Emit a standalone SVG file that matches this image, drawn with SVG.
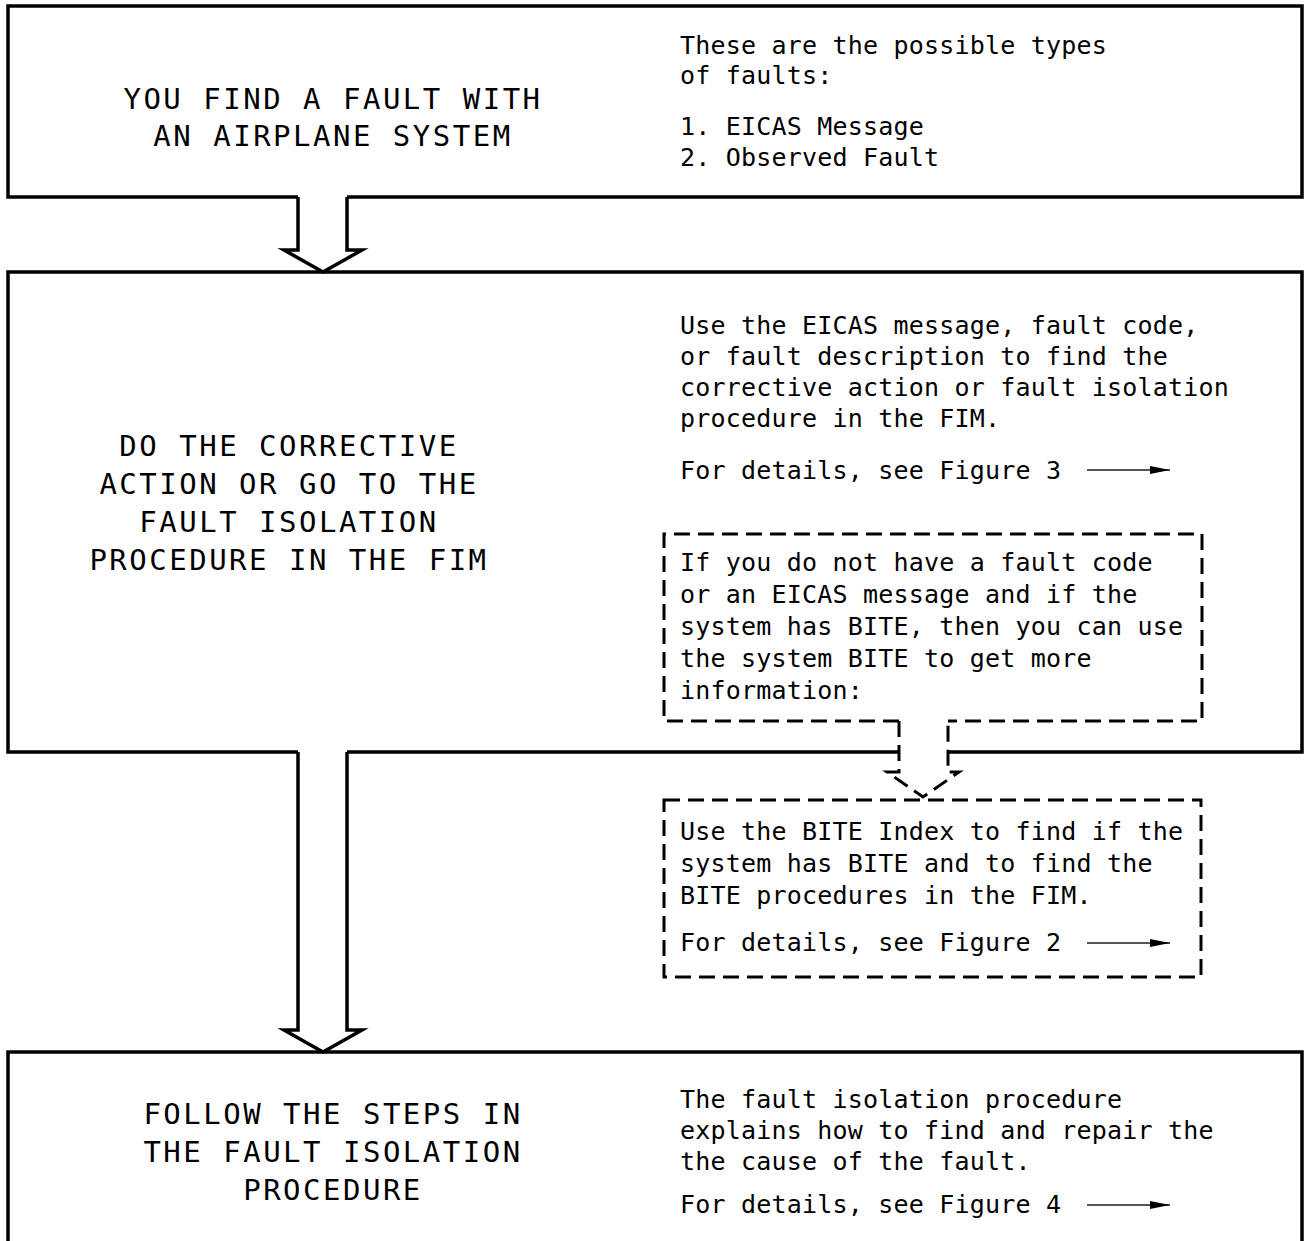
<svg xmlns="http://www.w3.org/2000/svg" width="1310" height="1241" viewBox="0 0 1310 1241">
<style>
.box{fill:none;stroke:#000;stroke-width:3.5;stroke-linejoin:miter}
.dash{fill:none;stroke:#000;stroke-width:3;stroke-dasharray:16 8}
.h{font-family:"DejaVu Sans Mono","Liberation Mono",monospace;font-size:29px;letter-spacing:2.5px;text-anchor:middle;fill:#000}
.t{font-family:"DejaVu Sans Mono","Liberation Mono",monospace;font-size:25px;letter-spacing:0.2px;fill:#000}
.ref{stroke:#555;stroke-width:2;marker-end:url(#ah)}
</style>
<defs>
<marker id="ah" viewBox="0 0 20 8" refX="20" refY="4" markerWidth="20" markerHeight="8" markerUnits="userSpaceOnUse" orient="auto">
<path d="M0,0 L20,4 L0,8 Z" fill="#000"/>
</marker>
</defs>
<rect width="1310" height="1241" fill="#fff"/>
<g id="node-find-fault">
<path class="box" d="M298,197 H8 V6 H1302 V197 H347"/>
<text class="h" x="333" y="109">YOU FIND A FAULT WITH</text>
<text class="h" x="333" y="146">AN AIRPLANE SYSTEM</text>
<text class="t" x="680" y="54">These are the possible types</text>
<text class="t" x="680" y="84">of faults:</text>
<text class="t" x="680" y="135">1. EICAS Message</text>
<text class="t" x="680" y="166">2. Observed Fault</text>
</g>
<g id="node-corrective">
<path class="box" d="M298,752 H8 V272 H1302 V752 H948 M899,752 H347"/>
<text class="h" x="289" y="456">DO THE CORRECTIVE</text>
<text class="h" x="289" y="494">ACTION OR GO TO THE</text>
<text class="h" x="289" y="532">FAULT ISOLATION</text>
<text class="h" x="289" y="570">PROCEDURE IN THE FIM</text>
<text class="t" x="680" y="334">Use the EICAS message, fault code,</text>
<text class="t" x="680" y="365">or fault description to find the</text>
<text class="t" x="680" y="396">corrective action or fault isolation</text>
<text class="t" x="680" y="427">procedure in the FIM.</text>
<text class="t" x="680" y="479">For details, see Figure 3</text>
<line class="ref" x1="1087" y1="470" x2="1170" y2="470"/>
</g>
<g id="node-no-code">
<path class="dash" d="M899,721 H664 V534 H1202 V721 H948"/>
<text class="t" x="680" y="571">If you do not have a fault code</text>
<text class="t" x="680" y="603">or an EICAS message and if the</text>
<text class="t" x="680" y="635">system has BITE, then you can use</text>
<text class="t" x="680" y="667">the system BITE to get more</text>
<text class="t" x="680" y="699">information:</text>
</g>
<g id="node-bite-index">
<rect class="dash" x="664" y="800" width="537" height="177"/>
<text class="t" x="680" y="840">Use the BITE Index to find if the</text>
<text class="t" x="680" y="872">system has BITE and to find the</text>
<text class="t" x="680" y="904">BITE procedures in the FIM.</text>
<text class="t" x="680" y="951">For details, see Figure 2</text>
<line class="ref" x1="1087" y1="943" x2="1170" y2="943"/>
</g>
<g id="node-follow-steps">
<path class="box" d="M8,1250 V1052 H1302 V1250"/>
<text class="h" x="333" y="1124">FOLLOW THE STEPS IN</text>
<text class="h" x="333" y="1162">THE FAULT ISOLATION</text>
<text class="h" x="333" y="1200">PROCEDURE</text>
<text class="t" x="680" y="1108">The fault isolation procedure</text>
<text class="t" x="680" y="1139">explains how to find and repair the</text>
<text class="t" x="680" y="1170">the cause of the fault.</text>
<text class="t" x="680" y="1213">For details, see Figure 4</text>
<line class="ref" x1="1087" y1="1205" x2="1170" y2="1205"/>
</g>
<g id="connectors">
<path class="box" d="M298,197 V250 H284 L323,272 L362,250 H347 V197"/>
<path class="box" d="M298,752 V1030 H284 L323,1052 L362,1030 H347 V752"/>
<path class="dash" d="M899,721 V772 H887 L923,797 L959,772 H948 V721"/>
</g>
</svg>
